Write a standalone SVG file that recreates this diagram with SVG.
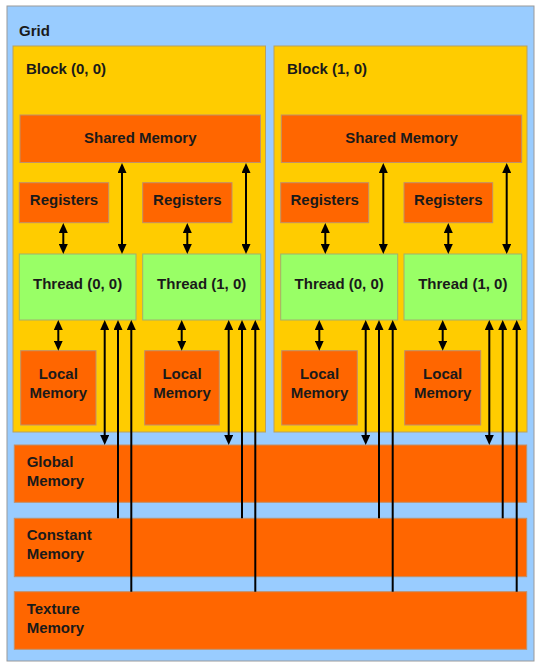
<svg xmlns="http://www.w3.org/2000/svg" width="543" height="666" viewBox="0 0 543 666">
<style>
.grid{fill:#99CCFF;stroke:#9A9A9A;stroke-width:1}
.blk{fill:#FFCC00;stroke:#B8A060;stroke-width:1}
.mem{fill:#FF6600;stroke:#C0906A;stroke-width:1}
.thr{fill:#99FF66;stroke:#A0B070;stroke-width:1}
text{font-family:"Liberation Sans",Arial,sans-serif;font-weight:bold;font-size:15px;fill:#1A1A1A}
.c{text-anchor:middle}
.ln{stroke:#000;stroke-width:2;fill:none}
.a2{marker-start:url(#ah);marker-end:url(#ah)}
.a1{marker-end:url(#ah)}
</style>
<defs>
<marker id="ah" markerUnits="userSpaceOnUse" markerWidth="10" markerHeight="9" refX="4" refY="4.5" orient="auto-start-reverse" viewBox="0 0 10 9">
<path d="M0,0 L10,4.5 L0,9 z" fill="#000"/>
</marker>
</defs>
<g id="grid">
<rect class="grid" x="7" y="6" width="527" height="655"/>
<text x="19" y="36">Grid</text>
</g>
<g id="block00">
<rect class="blk" x="13" y="46" width="252.5" height="386"/>
<text x="26" y="74">Block (0, 0)</text>
</g>
<g id="block10">
<rect class="blk" x="274" y="46" width="253" height="386"/>
<text x="287" y="74">Block (1, 0)</text>
</g>
<g id="shared0">
<rect class="mem" x="20" y="115" width="240.5" height="47.5"/>
<text class="c" x="140.3" y="143">Shared Memory</text>
</g>
<g id="shared1">
<rect class="mem" x="281.3" y="115" width="240.4" height="47.5"/>
<text class="c" x="401.5" y="143">Shared Memory</text>
</g>
<g id="reg00">
<rect class="mem" x="19.3" y="182.7" width="89.4" height="40"/>
<text class="c" x="64" y="205">Registers</text>
</g>
<g id="reg01">
<rect class="mem" x="142.7" y="182.7" width="89.3" height="40"/>
<text class="c" x="187.3" y="205">Registers</text>
</g>
<g id="reg10">
<rect class="mem" x="280.7" y="182.7" width="88" height="40"/>
<text class="c" x="324.7" y="205">Registers</text>
</g>
<g id="reg11">
<rect class="mem" x="404" y="182.7" width="88.7" height="40"/>
<text class="c" x="448.3" y="205">Registers</text>
</g>
<g id="thr00">
<rect class="thr" x="19.3" y="254" width="116.7" height="66"/>
<text class="c" x="77.6" y="289">Thread (0, 0)</text>
</g>
<g id="thr01">
<rect class="thr" x="142.7" y="254" width="118" height="66"/>
<text class="c" x="201.7" y="289">Thread (1, 0)</text>
</g>
<g id="thr10">
<rect class="thr" x="280.7" y="254" width="117" height="66"/>
<text class="c" x="339.2" y="289">Thread (0, 0)</text>
</g>
<g id="thr11">
<rect class="thr" x="404" y="254" width="117.7" height="66"/>
<text class="c" x="462.8" y="289">Thread (1, 0)</text>
</g>
<g id="loc00">
<rect class="mem" x="20.7" y="350.7" width="75.3" height="74.3"/>
<text class="c" x="58.3" y="379">Local</text>
<text class="c" x="58.3" y="397.5">Memory</text>
</g>
<g id="loc01">
<rect class="mem" x="144.7" y="350.7" width="74.6" height="74.3"/>
<text class="c" x="182" y="379">Local</text>
<text class="c" x="182" y="397.5">Memory</text>
</g>
<g id="loc10">
<rect class="mem" x="281.7" y="350.7" width="75.6" height="74.3"/>
<text class="c" x="319.5" y="379">Local</text>
<text class="c" x="319.5" y="397.5">Memory</text>
</g>
<g id="loc11">
<rect class="mem" x="404.7" y="350.7" width="76" height="74.3"/>
<text class="c" x="442.7" y="379">Local</text>
<text class="c" x="442.7" y="397.5">Memory</text>
</g>
<g id="global">
<rect class="mem" x="14.3" y="445" width="512.4" height="57.3"/>
<text x="26.7" y="467">Global</text>
<text x="26.7" y="486">Memory</text>
</g>
<g id="constant">
<rect class="mem" x="14.3" y="518.3" width="512.4" height="58.4"/>
<text x="26.7" y="540">Constant</text>
<text x="26.7" y="559">Memory</text>
</g>
<g id="texture">
<rect class="mem" x="14.3" y="591.7" width="512.4" height="57.6"/>
<text x="26.7" y="613.5">Texture</text>
<text x="26.7" y="632.5">Memory</text>
</g>
<g id="connectors">
<!-- registers <-> thread -->
<path class="ln a2" d="M63.3,229 V248"/>
<path class="ln a2" d="M187.3,229 V248"/>
<path class="ln a2" d="M325.3,229 V248"/>
<path class="ln a2" d="M448.3,229 V248"/>
<!-- shared <-> thread -->
<path class="ln a2" d="M122,169 V248"/>
<path class="ln a2" d="M246,169 V248"/>
<path class="ln a2" d="M383.3,169 V248"/>
<path class="ln a2" d="M506.7,169 V248"/>
<!-- thread <-> local -->
<path class="ln a2" d="M58.3,326 V344.7"/>
<path class="ln a2" d="M181.7,326 V344.7"/>
<path class="ln a2" d="M319.3,326 V344.7"/>
<path class="ln a2" d="M442.7,326 V344.7"/>
<!-- thread <-> global -->
<path class="ln a2" d="M104.7,326 V439"/>
<path class="ln a2" d="M228.7,326 V439"/>
<path class="ln a2" d="M365.7,326 V439"/>
<path class="ln a2" d="M489.3,326 V439"/>
<!-- constant -> thread -->
<path class="ln a1" d="M118,518.3 V326"/>
<path class="ln a1" d="M242,518.3 V326"/>
<path class="ln a1" d="M379,518.3 V326"/>
<path class="ln a1" d="M502.7,518.3 V326"/>
<!-- texture -> thread -->
<path class="ln a1" d="M131.3,591.7 V326"/>
<path class="ln a1" d="M255.3,591.7 V326"/>
<path class="ln a1" d="M392.7,591.7 V326"/>
<path class="ln a1" d="M516.7,591.7 V326"/>
</g>
</svg>
